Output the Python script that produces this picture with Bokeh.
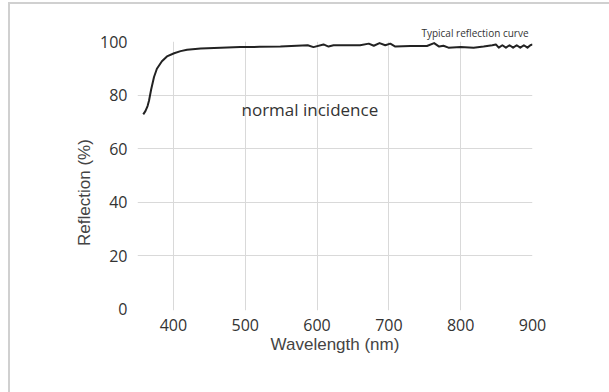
import math
from bokeh.plotting import figure
from bokeh.models import FixedTicker, Label, Title
from bokeh.embed import file_html
from bokeh.resources import INLINE

# Data
wavelength = [358, 361, 364, 366, 369, 373, 377, 384, 391, 401, 410, 419, 438, 466, 493,
              520, 549, 587, 595, 609, 616, 623, 660, 672, 679, 687, 695, 702, 709,
              730, 753, 763, 770, 776, 783, 800, 818, 832, 844, 849, 853, 858, 863,
              868, 873, 878, 883, 888, 893, 897, 900]
reflection = [72.9, 74.1, 76.0, 78.0, 82.2, 86.9, 90.0, 92.8, 94.6, 95.8, 96.6, 97.1, 97.6,
              97.9, 98.1, 98.2, 98.3, 98.8, 98.1, 99.1, 98.3, 98.8, 98.8, 99.4, 98.6,
              99.6, 98.8, 99.4, 98.3, 98.5, 98.5, 99.6, 98.3, 98.6, 97.9, 98.1, 97.9,
              98.3, 98.8, 99.1, 97.9, 98.8, 97.9, 98.8, 97.9, 98.8, 97.9, 98.8, 97.9,
              98.8, 99.1]
x_ticks = [400, 500, 600, 700, 800, 900]
y_ticks = [0, 20, 40, 60, 80, 100]
x_grid = [400, 500, 600, 700, 800]
y_grid = [20, 40, 60, 80]

p = figure(frame_width=395, frame_height=269,
           min_border_left=127, min_border_right=77,
           min_border_top=37, min_border_bottom=82,
           x_range=(350, 900), y_range=(-0.6, 100.2),
           output_backend="svg", toolbar_location=None,
           margin=(2, 0, 0, 8))
p.styles = {"border-top": "2px solid #d0d0d0", "border-left": "2px solid #d0d0d0"}
p.outline_line_color = None
p.background_fill_color = "white"
p.border_fill_color = "white"

p.title = Title(text="Typical reflection curve", align="right", offset=4, standoff=3,
                text_font="Open Sans", text_font_size="10px",
                text_font_style="normal", text_color="#333333")

p.xaxis.ticker = FixedTicker(ticks=x_ticks)
p.yaxis.ticker = FixedTicker(ticks=y_ticks)
p.xgrid.ticker = FixedTicker(ticks=x_grid)
p.ygrid.ticker = FixedTicker(ticks=y_grid)
for g in (p.xgrid, p.ygrid):
    g.grid_line_color = "#d9d9d9"
    g.grid_line_width = 1

for ax in (p.xaxis, p.yaxis):
    ax.axis_line_color = None
    ax.major_tick_line_color = None
    ax.minor_tick_line_color = None
    ax.major_label_text_font = "Open Sans"
    ax.major_label_text_font_size = "16px"
    ax.major_label_text_color = "#333333"
    ax.axis_label_text_font = "Liberation Sans"
    ax.axis_label_text_font_style = "normal"
    ax.axis_label_text_font_size = "17px"
    ax.axis_label_text_color = "#444444"

p.yaxis.major_label_standoff = 4
p.xaxis.major_label_standoff = 2
p.xaxis.axis_label = "Wavelength (nm)"
p.xaxis.axis_label_standoff = 1
p.yaxis.axis_label = "Reflection (%)" + "\u00a0" * 7
p.yaxis.axis_label_standoff = 3

p.line(wavelength, reflection, line_color="#222222", line_width=2, line_join="round")

p.add_layout(Label(x=494.8, y=74.7, text="normal incidence",
                   text_align="left", text_baseline="alphabetic",
                   text_font="Open Sans", text_font_size="17px",
                   text_color="#333333"))

open("out.html", "w").write(file_html(p, INLINE))
